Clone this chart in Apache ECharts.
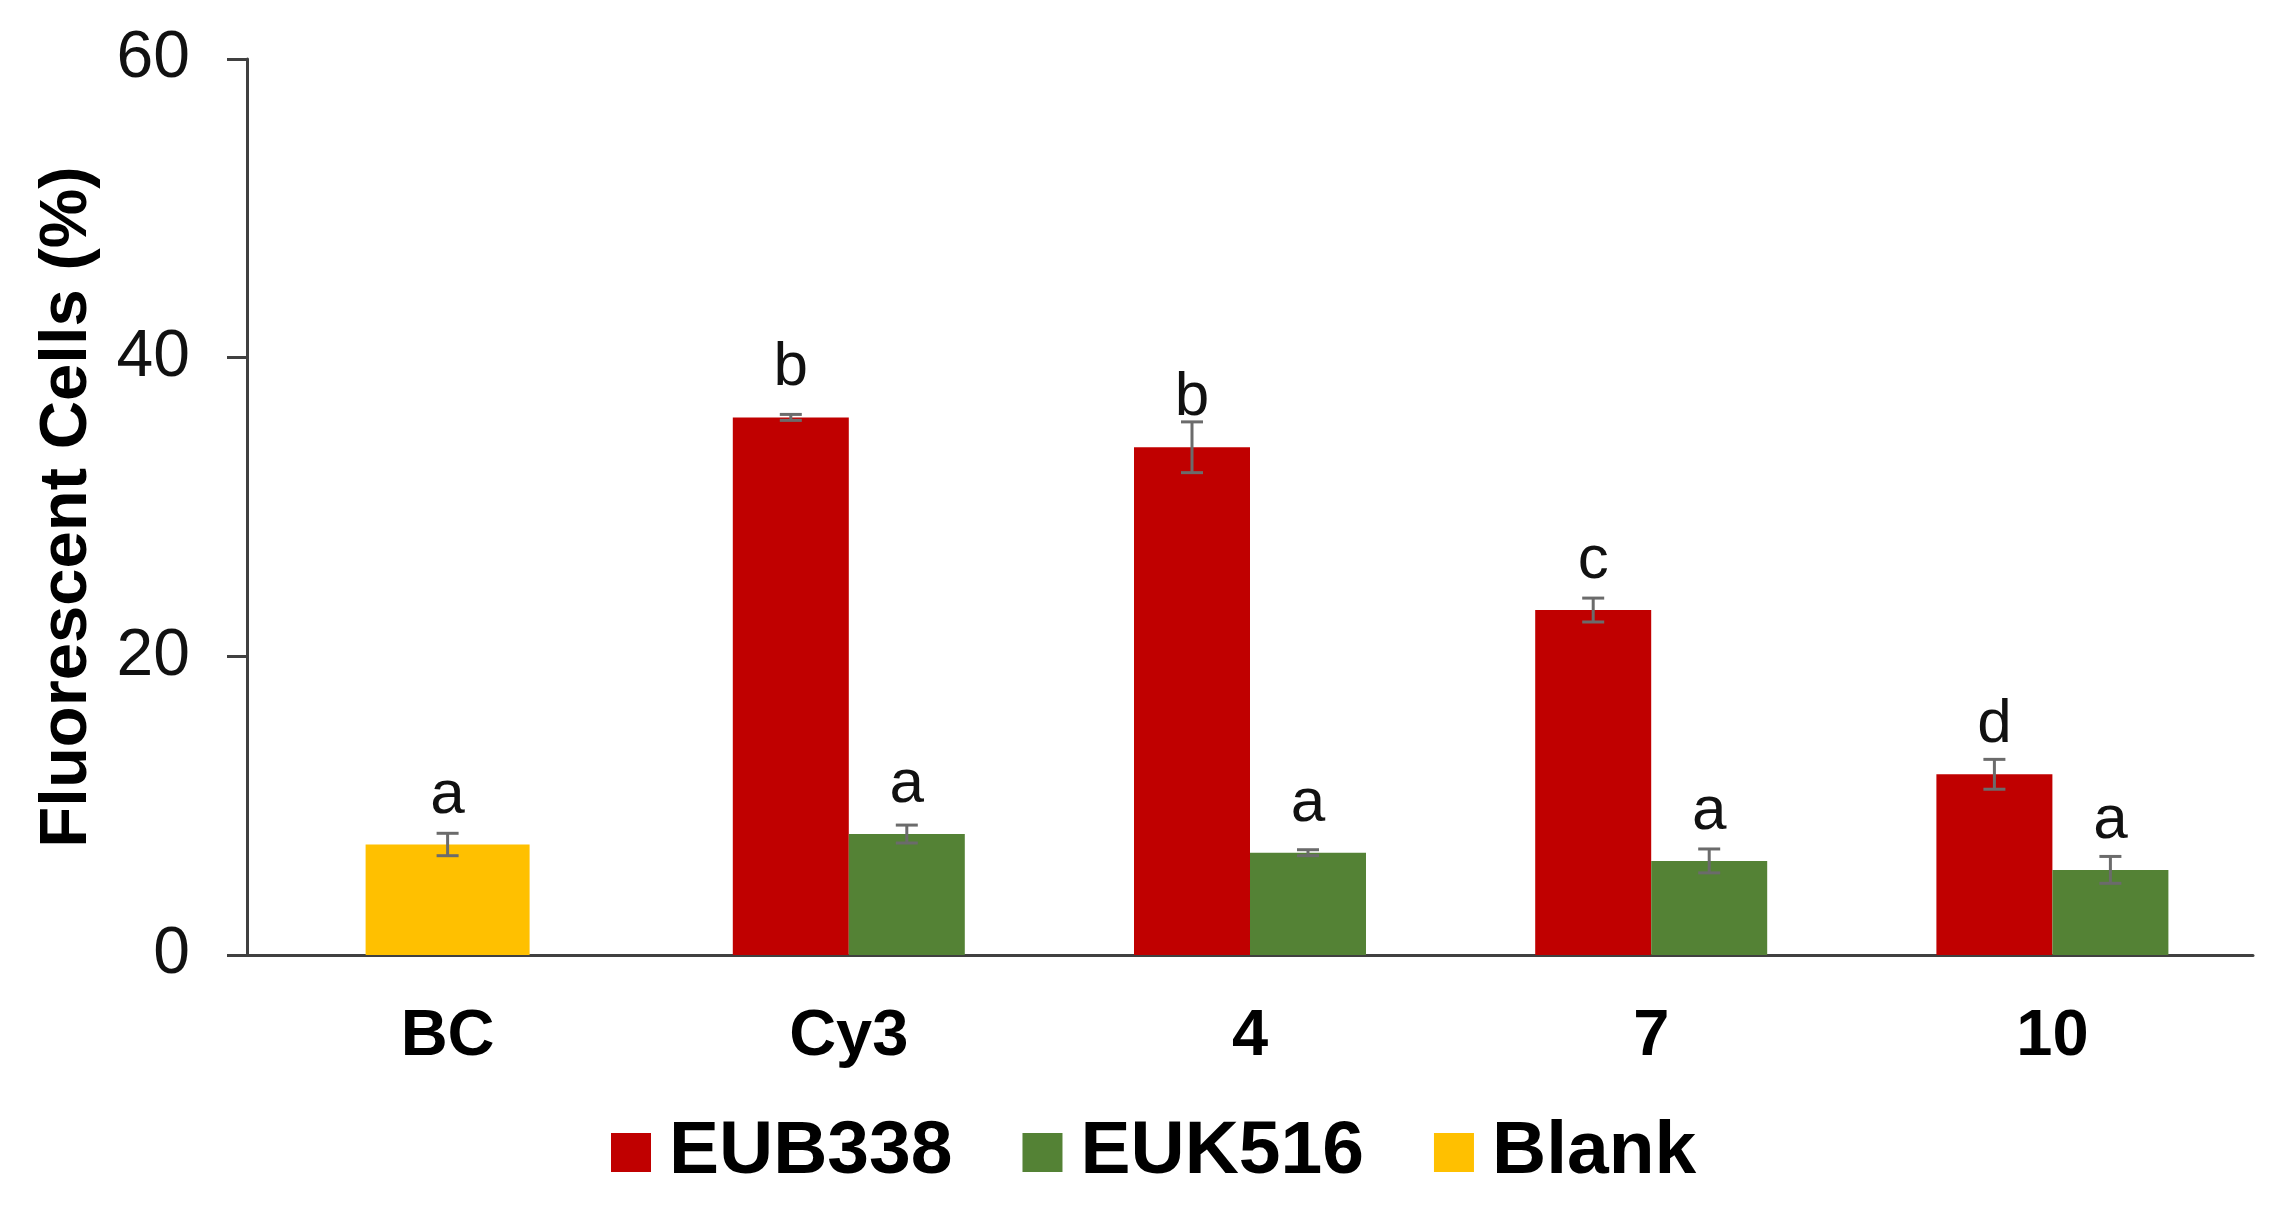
<!DOCTYPE html>
<html>
<head>
<meta charset="utf-8">
<script src="https://cdn.jsdelivr.net/npm/echarts@6/dist/echarts.min.js"></script>
<style>
  html, body { margin: 0; padding: 0; background: #fff; }
  #chart { width: 2279px; height: 1205px; }
</style>
</head>
<body>
<div id="chart"></div>
<script>
// data
var categories = ['BC', 'Cy3', '4', '7', '10'];
var eub338 = ['-', 36.0, 34.0, 23.1, 12.1];
var eub338Err = [0, 0.2, 1.7, 0.8, 1.0];
var eub338Letters = ['', 'b', 'b', 'c', 'd'];
var euk516 = ['-', 8.1, 6.85, 6.3, 5.7];
var euk516Err = [0, 0.6, 0.2, 0.8, 0.9];
var euk516Letters = ['', 'a', 'a', 'a', 'a'];
var blank = [7.4, '-', '-', '-', '-'];
var blankErr = [0.75, 0, 0, 0, 0];
var blankLetters = ['a', '', '', '', ''];
var yTicks = [0, 20, 40, 60];

var FONT = '"Liberation Sans", Arial, sans-serif';
var AXIS_COLOR = '#404040';
var ERR_COLOR = '#6b6b6b';
var BAR_W = 116; // width of each paired bar
var BLANK_W = 164;

// error bar + letter, dx shifts from category centre
function errSeries(vals, errs, letters, dx) {
    var data = [];
    for (var i = 0; i < vals.length; i++) {
        if (vals[i] === '-') continue;
        data.push([i, vals[i], errs[i], i]);
    }
    return {
        type: 'custom',
        xAxisIndex: 0,
        yAxisIndex: 0,
        silent: true,
        z: 5,
        data: data,
        renderItem: function (params, api) {
            var idx = api.value(0), v = api.value(1), e = api.value(2);
            var pv = api.coord([idx, v]);
            var hi = api.coord([idx, v + e]);
            var lo = api.coord([idx, v - e]);
            var x = pv[0] + dx;
            var cap = 11;
            var ls = { stroke: ERR_COLOR, lineWidth: 3 };
            return {
                type: 'group',
                children: [
                    { type: 'line', shape: { x1: x, y1: hi[1], x2: x, y2: lo[1] }, style: ls },
                    { type: 'line', shape: { x1: x - cap, y1: hi[1], x2: x + cap, y2: hi[1] }, style: ls },
                    { type: 'line', shape: { x1: x - cap, y1: lo[1], x2: x + cap, y2: lo[1] }, style: ls },
                    {
                        type: 'text',
                        style: {
                            text: letters[api.value(3)],
                            x: x,
                            y: pv[1] - 18,
                            align: 'center',
                            verticalAlign: 'bottom',
                            font: '62px ' + FONT,
                            fill: '#111'
                        }
                    }
                ]
            };
        }
    };
}

var myChart = echarts.init(document.getElementById('chart'));
var option = {
    backgroundColor: '#fff',
    animation: false,
    grid: { left: 247, right: 26, top: 59, bottom: 250, containLabel: false, outerBoundsMode: 'none' },
    legend: {
        data: ['EUB338', 'EUK516', 'Blank'],
        left: 606,
        top: 1110,
        icon: 'rect',
        itemWidth: 40,
        itemHeight: 39,
        itemGap: 70,
        textStyle: {
            fontFamily: FONT,
            fontSize: 75,
            fontWeight: 'bold',
            color: '#000',
            padding: [0, 0, 0, 13]
        }
    },
    xAxis: [{
        type: 'category',
        data: categories,
        axisLine: { lineStyle: { color: AXIS_COLOR, width: 3 } },
        axisTick: { length: 20, lineStyle: { color: AXIS_COLOR, width: 3 } },
        axisLabel: {
            margin: 50,
            fontFamily: FONT,
            fontSize: 65,
            fontWeight: 'bold',
            color: '#000'
        }
    }, {
        type: 'category',
        data: categories,
        show: false
    }],
    yAxis: {
        type: 'value',
        min: yTicks[0],
        max: yTicks[yTicks.length - 1],
        interval: 20,
        name: 'Fluorescent Cells (%)',
        nameLocation: 'middle',
        nameGap: 146,
        nameTextStyle: {
            fontFamily: FONT,
            fontSize: 67,
            fontWeight: 'bold',
            color: '#000'
        },
        splitLine: { show: false },
        axisLine: { show: true, lineStyle: { color: AXIS_COLOR, width: 3 } },
        axisTick: { show: true, length: 20, lineStyle: { color: AXIS_COLOR, width: 3 } },
        axisLabel: {
            margin: 57,
            fontFamily: FONT,
            fontSize: 66,
            color: '#111'
        }
    },
    series: [{
        name: 'EUB338',
        type: 'bar',
        xAxisIndex: 0,
        data: eub338,
        barWidth: BAR_W,
        barGap: '0%',
        itemStyle: { color: '#C00000' }
    }, {
        name: 'EUK516',
        type: 'bar',
        xAxisIndex: 0,
        data: euk516,
        barWidth: BAR_W,
        barGap: '0%',
        itemStyle: { color: '#548235' }
    }, {
        name: 'Blank',
        type: 'bar',
        xAxisIndex: 1,
        data: blank,
        barWidth: BLANK_W,
        itemStyle: { color: '#FFC000' }
    },
    errSeries(eub338, eub338Err, eub338Letters, -BAR_W / 2),
    errSeries(euk516, euk516Err, euk516Letters, BAR_W / 2),
    errSeries(blank, blankErr, blankLetters, 0)
    ]
};
myChart.setOption(option, true);
</script>
</body>
</html>
